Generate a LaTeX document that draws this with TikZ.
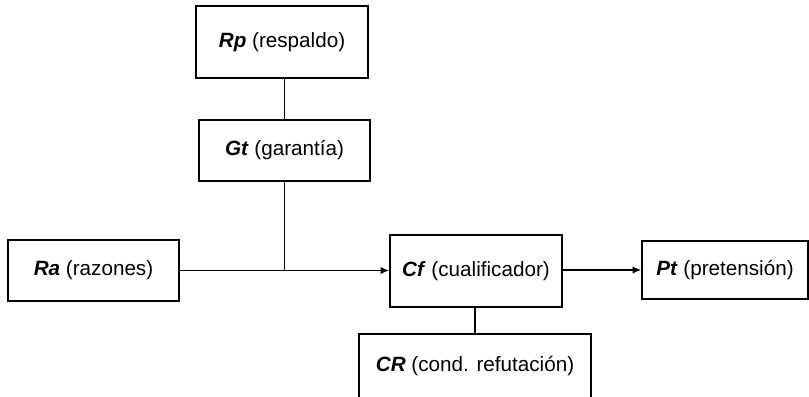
\documentclass[tikz,border=0pt]{standalone}
\usepackage{fontspec}
\setmainfont{Liberation Sans}
\usepackage{tikz}
\usetikzlibrary{arrows.meta, positioning, calc}

\begin{document}
\begin{tikzpicture}[x=0.75pt, y=-0.75pt,
    caja/.style={draw, line width=1.1pt, inner sep=0pt, align=center,
                 font=\fontsize{15.5}{18}\selectfont},
    linea/.style={line width=1.1pt},
    flecha/.style={line width=1.1pt, -{Latex[length=6.5pt,width=5.5pt]}}]
  \useasboundingbox (0,0) rectangle (809,396);
  % cajas del esquema
  \node[caja, minimum width=129pt, minimum height=54pt] (rp) at (282,42)
        {\textbf{\textit{Rp}} (respaldo)};
  \node[caja, minimum width=128pt, minimum height=45.75pt] (gt) at (284.5,150.5)
        {\textbf{\textit{Gt}} (garantía)};
  \node[caja, minimum width=128pt, minimum height=45.75pt] (ra) at (93.5,270.5)
        {\textbf{\textit{Ra}} (razones)};
  \node[caja, minimum width=129pt, minimum height=54pt] (cf) at (476,271)
        {\raisebox{3pt}{\textbf{\textit{Cf}} (cualificador)}};
  \node[caja, minimum width=124.5pt, minimum height=43.5pt] (pt) at (725,270)
        {\textbf{\textit{Pt}} (pretensión)};
  \node[caja, minimum width=174pt, minimum height=48pt] (cr) at (475,366)
        {\textbf{\textit{CR}} (cond. refutación)};
  % conexiones
  \coordinate (j) at (gt |- ra);
  \draw[linea] (rp.south -| gt) -- (gt);
  \draw[linea] (gt) -- (j);
  \draw[flecha] (ra) -- (ra -| cf.west);
  \draw[flecha] (cf.east |- pt) -- (pt);
  \draw[linea] (cf.south -| cr) -- (cr);
\end{tikzpicture}
\end{document}
